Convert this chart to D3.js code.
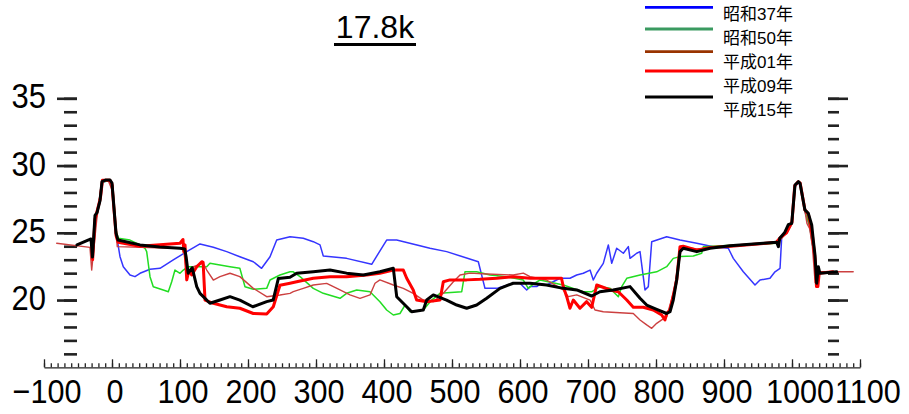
<!DOCTYPE html>
<html><head><meta charset="utf-8">
<script src="https://cdn.jsdelivr.net/npm/d3@7/dist/d3.min.js"></script>
<style>html,body{margin:0;padding:0;background:#fff;}svg{display:block;}</style>
</head><body>
<svg id="chart" width="909" height="414"></svg>
<script>
const chartTitle = "17.8k";
const seriesNames = ["昭和37年", "昭和50年", "平成01年", "平成09年", "平成15年"];
const legendColors = ["#0000ff", "#3a9a60", "#993300", "#ff0000", "#000000"];
const lineColors = ["#3535ff", "#22dd22", "#cc4040", "#ff0000", "#000000"];
const lineWidths = [1.5, 1.5, 1.4, 3, 3];
const xTickLabels = [-100, 0, 100, 200, 300, 400, 500, 600, 700, 800, 900, 1000, 1100];
const yTickLabels = [20, 25, 30, 35];

const showa37 = [[-12,28.8],[-3,28.9],[1,28.5],[5,25.5],[7.8,24.46],[11.8,23.22],[16.6,22.48],[26.5,21.86],[33.8,21.74],[41.2,21.99],[55.9,22.29],[70.6,22.36],[90.1,22.98],[109.9,23.6],[129.4,24.17],[149,23.92],[168.7,23.6],[188,23.22],[207.8,22.85],[220,22.36],[232.4,23.22],[242.2,24.46],[261.8,24.71],[281.3,24.59],[296,24.34],[305.9,24.1],[310.7,23.28],[345,23.1],[381.9,22.66],[403.9,24.46],[418.7,24.46],[467.6,23.85],[492.2,23.6],[538.7,22.85],[548.5,20.87],[565.7,20.87],[590,21.25],[599.9,21.25],[609.8,20.75],[614.7,21.0],[624.6,21.0],[630,21.2],[639.3,21.12],[658.8,21.62],[673.5,21.62],[683.4,21.86],[693.1,21.99],[703,22.23],[707.8,21.49],[712.8,21.99],[722.5,22.73],[729.9,24.1],[734.9,22.73],[742.2,23.85],[752,23.48],[759.3,23.97],[761.8,23.1],[771.6,23.48],[776.5,23.6],[783.8,20.75],[788.7,21.0],[793.7,24.34],[815.7,24.71],[835.3,24.46],[859.9,24.22],[884.3,23.97],[906.3,23.85],[913.7,23.1],[928.4,22.1],[945.6,21.12],[952.9,21.49],[967.6,21.62],[975,22.1],[982.4,22.36],[984.9,24.71],[992,25.0],[1000,25.7],[1004,28.4],[1009,28.7],[1012,28.6],[1019,26.6],[1026,25.5],[1032,23.5],[1036,22.0]];

const showa50 = [[-12,28.8],[-3,28.9],[1,28.5],[6,25.2],[9.3,24.59],[26.5,24.46],[41.2,24.1],[48.5,23.85],[51,23.6],[55.9,21.74],[60.7,20.99],[75.4,20.75],[82.8,20.62],[87.8,21.36],[92.6,22.23],[100,21.99],[104.9,22.23],[112.2,22.48],[139.3,22.48],[144,22.73],[173.5,22.48],[188,22.36],[195.6,20.99],[207.8,20.8],[227.5,20.87],[232.4,21.49],[247,21.86],[261.8,22.1],[266.6,22.1],[276.5,21.74],[296,20.87],[310.7,20.5],[335.3,20.13],[345,20.5],[359.9,20.75],[379.4,20.62],[394,19.88],[403.9,19.26],[413.7,18.89],[423.5,19.0],[430.9,19.63],[438.2,19.13],[457.8,19.26],[470.1,20.0],[482.4,20.5],[514.3,20.62],[519.1,22.1],[536.3,22.1],[555.9,21.86],[580.4,21.74],[604.9,21.49],[612.2,20.87],[620,21.2],[629.4,21.49],[663.7,21.12],[678.4,20.87],[693.1,20.62],[705.9,20.62],[717.6,20.99],[732.4,20.87],[744.6,20.25],[749.6,20.99],[757,21.62],[776.5,21.86],[801,22.1],[815.7,22.48],[825.4,23.1],[835.3,23.23],[854.9,23.28],[867.2,23.48],[869.6,23.97],[889.3,24.02],[977.5,24.22],[982,24.5],[992,25.0],[1000,25.7],[1004,28.4],[1009,28.8],[1012,28.6],[1019,26.6],[1026,25.5],[1032,23.5],[1036,22.0]];

const heisei01 = [[-81.3,24.22],[-32.4,23.92],[-29.9,22.23],[-22.5,25.95],[-15.1,28.93],[-5.9,28.93],[0,28.2],[7.8,23.97],[90.1,23.85],[104.9,23.85],[109.9,22.0],[119.6,22.48],[134.3,22.73],[139.3,22.23],[149,21.49],[158.8,21.74],[173.5,21.99],[188,21.74],[207.8,20.87],[227.5,20.25],[247,20.38],[261.8,20.5],[266.6,20.62],[281.3,20.87],[296,21.12],[315.7,21.24],[335.3,20.75],[350,20.38],[364.7,20.13],[379.4,20.38],[386.8,21.25],[394,21.5],[413.7,21.12],[428.4,20.87],[443,20.5],[457.8,20.0],[472.5,19.88],[487.2,20.5],[502,21.36],[511.8,21.86],[526.5,22.0],[551,21.94],[590,21.86],[604.9,22.0],[614.7,21.74],[639,21.49],[663.7,20.75],[671,20.25],[683.4,20.38],[703,20.0],[710.3,19.26],[722.5,19.13],[747,19.06],[766.6,19.0],[776.5,18.52],[786.3,18.15],[793.7,17.9],[801,18.27],[808.4,18.52],[815.7,18.76],[825.4,20.5],[837.8,23.97],[860,23.8],[910,24.0],[960,24.2],[980,24.3],[990,24.9],[1000,25.9],[1005,28.5],[1010,28.8],[1013,28.5],[1022,25.7],[1026,25.3],[1030,24.0],[1034,21.3],[1037,22.1],[1090,22.1]];

const heisei09 = [[-30,24.3],[-28.5,23.0],[-25,26.0],[-17,27.6],[-14,28.9],[-3,28.9],[0,28.6],[6,24.8],[9,24.3],[41,24.0],[100,24.22],[104.4,24.5],[105.5,23.6],[107.4,24.1],[109.9,21.5],[113,22.2],[117.2,21.86],[124.6,22.48],[132,22.85],[134,22.8],[136.8,20.0],[149,19.76],[168.7,19.5],[188,19.39],[207.8,19.0],[227.5,18.96],[237.2,19.5],[247,21.1],[261.8,21.25],[271.6,21.36],[296,21.62],[320.6,21.74],[345,21.74],[374.6,21.86],[394,21.99],[413.7,22.23],[428.4,22.23],[433.4,21.62],[443,20.75],[448,20.0],[462.8,19.88],[482.4,20.0],[487.2,21.36],[497,21.5],[521.6,21.5],[541,21.54],[565.7,21.62],[590,21.74],[614.7,21.62],[639,21.62],[661,21.62],[663.7,20.99],[668.7,20.25],[673.5,19.39],[678.4,20.0],[688.2,19.39],[698,19.88],[705.4,19.46],[712.8,21.12],[720,20.99],[732.4,20.75],[744.6,20.62],[757,20.0],[766.6,19.46],[781.3,19.46],[796,19.26],[808.4,18.89],[813.2,18.52],[815.7,19.0],[820.6,19.26],[830.4,21.49],[835.3,23.97],[840,24.0],[860,23.7],[880,23.9],[910,24.0],[958,24.2],[977,24.3],[982,24.6],[992,25.0],[1000,25.8],[1004,28.5],[1009,28.8],[1012,28.7],[1019,26.7],[1024,26.4],[1030,24.8],[1034,23.0],[1036,21.0],[1038,21.0],[1040,22.0],[1060,22.1]];

const heisei15 = [[-51.5,24.1],[-30.9,24.54],[-28.7,23.2],[-25,26.3],[-22,26.5],[-17.6,27.4],[-14.7,28.8],[-8.8,28.93],[-2.9,28.93],[0,28.7],[5.9,24.98],[8.8,24.46],[41.2,24.1],[70,23.95],[100,23.85],[107,23.8],[109,23.2],[112,22.0],[118,22.4],[124.6,21.0],[129.4,20.5],[144,19.76],[158.8,20.0],[173.5,20.25],[188,20.0],[207,19.5],[227.5,19.88],[237,20.0],[244.6,21.6],[261.8,21.7],[271.6,21.99],[296,22.1],[320.6,22.23],[345,22.0],[369.6,21.86],[394,22.1],[413.7,22.36],[418.7,20.25],[433.4,19.5],[440.7,19.13],[457.8,19.26],[462.8,20.0],[472.5,20.38],[492,20.0],[507,19.63],[521.6,19.39],[536.3,19.63],[551,20.13],[570.6,20.87],[590,21.25],[614.7,21.25],[639,21.12],[663.7,20.87],[683.4,20.75],[705.4,20.3],[717.6,20.62],[737,20.75],[761.8,21.0],[776.5,20.13],[786.3,19.63],[801,19.31],[815.7,19.0],[820.6,19.13],[825.4,20.0],[830.4,21.49],[835.3,23.6],[840.1,23.85],[859.9,23.6],[879.4,23.85],[908.8,24.04],[957.8,24.22],[977.5,24.3],[980,23.97],[982,24.6],[989,25.0],[994.6,25.6],[999.6,25.7],[1004.4,28.55],[1009.3,28.8],[1011.8,28.68],[1019,26.7],[1024,26.45],[1029,25.58],[1031.3,24.46],[1033.8,23.35],[1036.3,21.25],[1038.7,22.48],[1041,21.99],[1065.7,22.1]];

const seriesData = [showa37, showa50, heisei01, heisei09, heisei15];

const svg = d3.select("#chart");
const x = d3.scaleLinear().domain([-100, 1100]).range([44, 860]);
const y = d3.scaleLinear().domain([15, 35]).range([367.3, 98.3]);
const axisColor = "#222";
const numFont = "'Liberation Sans', Arial, sans-serif";

// title
svg.append("text").attr("x", 375).attr("y", 38).attr("text-anchor", "middle")
  .style("font-family", numFont).style("font-size", "32px").attr("fill", "#000").text(chartTitle);
svg.append("line").attr("x1", 334).attr("x2", 416).attr("y1", 44.5).attr("y2", 44.5)
  .attr("stroke", "#000").attr("stroke-width", 2.8);

// x axis
const xAxisY = 367.3;
const gx = svg.append("g").attr("transform", `translate(0,${xAxisY})`)
  .call(d3.axisTop(x).tickValues(d3.range(-100, 1101, 10)).tickSize(4).tickFormat("").tickSizeOuter(0));
gx.selectAll("path,line").attr("stroke", axisColor).attr("stroke-width", 1.3);
const gx2 = svg.append("g").attr("transform", `translate(0,${xAxisY})`)
  .call(d3.axisTop(x).tickValues(xTickLabels).tickSize(8).tickFormat("").tickSizeOuter(0));
gx2.select("path").remove();
gx2.selectAll("line").attr("stroke", axisColor).attr("stroke-width", 1.3);
svg.append("g").selectAll("text").data(xTickLabels).join("text")
  .attr("transform", d => `translate(${x(d) + (d >= 1000 ? 8 : 3)},403) scale(0.9,1)`)
  .attr("text-anchor", "middle").style("font-family", numFont).style("font-size", "34px")
  .attr("fill", "#000").text(d => d < 0 ? "\u2212" + Math.abs(d) : d);

// y axis ticks (left and right)
const yMinorVals = d3.range(16, 36);
const leftX = 77, rightX = 828;
const gyl = svg.append("g").attr("transform", `translate(${leftX},0)`)
  .call(d3.axisLeft(y).tickValues(yMinorVals).tickSize(13).tickFormat(""));
const gylM = svg.append("g").attr("transform", `translate(${leftX},0)`)
  .call(d3.axisLeft(y).tickValues(yTickLabels).tickSize(20).tickFormat(""));
const gyr = svg.append("g").attr("transform", `translate(${rightX},0)`)
  .call(d3.axisRight(y).tickValues(yMinorVals).tickSize(11).tickFormat(""));
const gyrM = svg.append("g").attr("transform", `translate(${rightX},0)`)
  .call(d3.axisRight(y).tickValues(yTickLabels).tickSize(20).tickFormat(""));
[gyl, gylM, gyr, gyrM].forEach(g => {
  g.select("path").remove();
  g.selectAll("line").attr("stroke", axisColor).attr("stroke-width", 2.6);
});

svg.append("g").selectAll("text").data(yTickLabels).join("text")
  .attr("transform", d => `translate(46,${y(d) + 10}) scale(0.86,1)`)
  .attr("text-anchor", "end").style("font-family", numFont).style("font-size", "36px")
  .attr("fill", "#000").text(d => d);

// series lines
const line = d3.line().x(d => x(d[0])).y(d => y(d[1])).curve(d3.curveLinear);
svg.append("g").selectAll("path").data(seriesData).join("path")
  .attr("d", d => line(d)).attr("fill", "none")
  .attr("stroke", (d, i) => lineColors[i]).attr("stroke-width", (d, i) => lineWidths[i])
  .attr("stroke-linejoin", "round").attr("stroke-linecap", "round");

// legend
const legendLineY = [7.3, 29, 51.7, 71, 97];
const lg = svg.append("g");
lg.selectAll("line").data(seriesNames).join("line")
  .attr("x1", 645).attr("x2", 713)
  .attr("y1", (d, i) => legendLineY[i]).attr("y2", (d, i) => legendLineY[i])
  .attr("stroke", (d, i) => legendColors[i]).attr("stroke-width", 2.8);
lg.selectAll("text").data(seriesNames).join("text")
  .attr("x", 723).attr("y", (d, i) => 19.5 + 24.2 * i)
  .style("font-family", "'Liberation Sans', 'Noto Sans CJK JP', sans-serif").style("font-size", "17px")
  .attr("fill", "#000").text(d => d);
</script>
</body></html>
